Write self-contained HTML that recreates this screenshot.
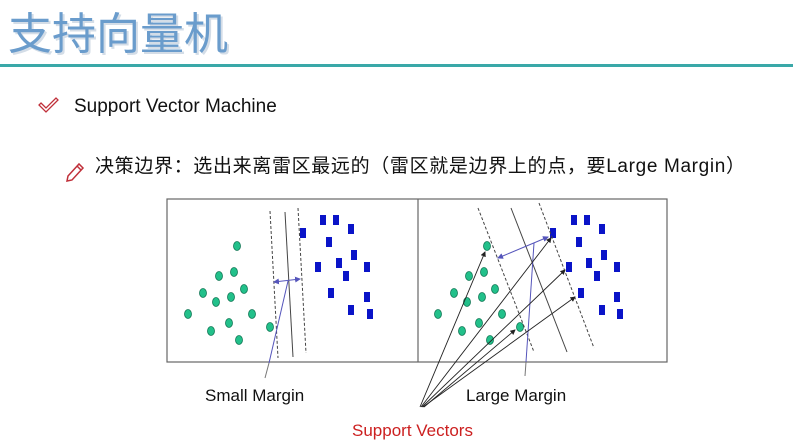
<!DOCTYPE html>
<html><head><meta charset="utf-8"><style>
html,body{margin:0;padding:0;background:#fff;width:793px;height:446px;overflow:hidden}
svg{display:block}
</style></head><body>
<svg width="793" height="446" viewBox="0 0 793 446" xmlns="http://www.w3.org/2000/svg">
<defs>
<marker id="ab" markerWidth="6" markerHeight="6" refX="5" refY="3" orient="auto"><path d="M0,0 L6,3 L0,6z" fill="#222"/></marker>
<marker id="ap" markerWidth="6" markerHeight="6" refX="5" refY="3" orient="auto"><path d="M0,0 L6,3 L0,6z" fill="#5555bb"/></marker>
<marker id="aps" markerWidth="6" markerHeight="6" refX="1" refY="3" orient="auto"><path d="M6,0 L0,3 L6,6z" fill="#5555bb"/></marker>
</defs>
<text x="10" y="51" font-family="Liberation Sans, Noto Sans CJK SC, sans-serif" font-size="44" fill="#b8c8d8" opacity="0.6">支持向量机</text>
<text x="8" y="49" font-family="Liberation Sans, Noto Sans CJK SC, sans-serif" font-size="44" fill="#6a9ccc">支持向量机</text>
<rect x="0" y="64" width="793" height="3" fill="#3aa8a8"/>
<path d="M41,103 l5,5 l10,-10 l2,2 l-12,12 l-7,-7z" stroke="#c0303a" stroke-width="1.3" fill="none"/>
<text x="74" y="112" font-family="Liberation Sans, sans-serif" font-size="19" fill="#111">Support Vector Machine</text>
<path d="M68,176 l11,-12 l4,4 l-11,12 l-5,1z M77,166 l4,4" stroke="#c0303a" stroke-width="1.5" fill="none"/>
<text x="95" y="172" font-family="Liberation Sans, Noto Sans CJK SC, sans-serif" font-size="19" fill="#111" textLength="650">决策边界：选出来离雷区最远的（雷区就是边界上的点，要Large Margin）</text>
<rect x="167" y="199" width="500" height="163" fill="#fff" stroke="#666" stroke-width="1.2"/>
<line x1="418" y1="199" x2="418" y2="362" stroke="#666" stroke-width="1.2"/>
<g fill="#22c08a" stroke="#117755" stroke-width="0.8">
<ellipse cx="237" cy="246" rx="3.5" ry="4.5"/><ellipse cx="234" cy="272" rx="3.5" ry="4.5"/><ellipse cx="219" cy="276" rx="3.5" ry="4.5"/><ellipse cx="244" cy="289" rx="3.5" ry="4.5"/><ellipse cx="203" cy="293" rx="3.5" ry="4.5"/><ellipse cx="216" cy="302" rx="3.5" ry="4.5"/><ellipse cx="231" cy="297" rx="3.5" ry="4.5"/><ellipse cx="188" cy="314" rx="3.5" ry="4.5"/><ellipse cx="252" cy="314" rx="3.5" ry="4.5"/><ellipse cx="229" cy="323" rx="3.5" ry="4.5"/><ellipse cx="211" cy="331" rx="3.5" ry="4.5"/><ellipse cx="239" cy="340" rx="3.5" ry="4.5"/><ellipse cx="270" cy="327" rx="3.5" ry="4.5"/>
<ellipse cx="487" cy="246" rx="3.5" ry="4.5"/><ellipse cx="484" cy="272" rx="3.5" ry="4.5"/><ellipse cx="469" cy="276" rx="3.5" ry="4.5"/><ellipse cx="495" cy="289" rx="3.5" ry="4.5"/><ellipse cx="454" cy="293" rx="3.5" ry="4.5"/><ellipse cx="467" cy="302" rx="3.5" ry="4.5"/><ellipse cx="482" cy="297" rx="3.5" ry="4.5"/><ellipse cx="438" cy="314" rx="3.5" ry="4.5"/><ellipse cx="502" cy="314" rx="3.5" ry="4.5"/><ellipse cx="479" cy="323" rx="3.5" ry="4.5"/><ellipse cx="462" cy="331" rx="3.5" ry="4.5"/><ellipse cx="490" cy="340" rx="3.5" ry="4.5"/><ellipse cx="520" cy="327" rx="3.5" ry="4.5"/>
</g>
<g fill="#0a14c8">
<rect x="300" y="228" width="6" height="10"/><rect x="320" y="215" width="6" height="10"/><rect x="333" y="215" width="6" height="10"/><rect x="348" y="224" width="6" height="10"/><rect x="326" y="237" width="6" height="10"/><rect x="351" y="250" width="6" height="10"/><rect x="315" y="262" width="6" height="10"/><rect x="336" y="258" width="6" height="10"/><rect x="364" y="262" width="6" height="10"/><rect x="343" y="271" width="6" height="10"/><rect x="328" y="288" width="6" height="10"/><rect x="364" y="292" width="6" height="10"/><rect x="348" y="305" width="6" height="10"/><rect x="367" y="309" width="6" height="10"/>
<rect x="550" y="228" width="6" height="10"/><rect x="571" y="215" width="6" height="10"/><rect x="584" y="215" width="6" height="10"/><rect x="599" y="224" width="6" height="10"/><rect x="576" y="237" width="6" height="10"/><rect x="601" y="250" width="6" height="10"/><rect x="566" y="262" width="6" height="10"/><rect x="586" y="258" width="6" height="10"/><rect x="614" y="262" width="6" height="10"/><rect x="594" y="271" width="6" height="10"/><rect x="578" y="288" width="6" height="10"/><rect x="614" y="292" width="6" height="10"/><rect x="599" y="305" width="6" height="10"/><rect x="617" y="309" width="6" height="10"/>
</g>
<g stroke="#444" stroke-width="1" fill="none">
<line x1="270" y1="211" x2="278" y2="358" stroke-dasharray="3,2"/>
<line x1="285" y1="212" x2="293" y2="357"/>
<line x1="298" y1="208" x2="306" y2="353" stroke-dasharray="3,2"/>
<line x1="478" y1="208" x2="534" y2="352" stroke-dasharray="3,2"/>
<line x1="511" y1="208" x2="567" y2="352"/>
<line x1="539" y1="203" x2="594" y2="348" stroke-dasharray="3,2"/>
</g>
<g stroke="#5555bb" stroke-width="1" fill="none">
<line x1="274" y1="282" x2="300" y2="279" marker-start="url(#aps)" marker-end="url(#ap)"/>
<line x1="288" y1="281" x2="269" y2="363"/>
<line x1="269" y1="363" x2="265" y2="378" stroke="#777"/>
<line x1="498" y1="258" x2="548" y2="237" marker-start="url(#aps)" marker-end="url(#ap)"/>
<line x1="534" y1="243" x2="526" y2="362"/>
<line x1="526" y1="362" x2="525" y2="376" stroke="#777"/>
</g>
<g stroke="#222" stroke-width="0.9" fill="none">
<line x1="420" y1="407" x2="485" y2="252" marker-end="url(#ab)"/>
<line x1="421" y1="407" x2="551" y2="238" marker-end="url(#ab)"/>
<line x1="422" y1="407" x2="565" y2="270" marker-end="url(#ab)"/>
<line x1="423" y1="407" x2="575" y2="297" marker-end="url(#ab)"/>
<line x1="424" y1="407" x2="515" y2="330" marker-end="url(#ab)"/>
</g>
<text x="205" y="401" font-family="Liberation Sans, sans-serif" font-size="17" fill="#111">Small Margin</text>
<text x="466" y="401" font-family="Liberation Sans, sans-serif" font-size="17" fill="#111">Large Margin</text>
<text x="352" y="436" font-family="Liberation Sans, sans-serif" font-size="17" fill="#cc2020">Support Vectors</text>
</svg>
</body></html>
